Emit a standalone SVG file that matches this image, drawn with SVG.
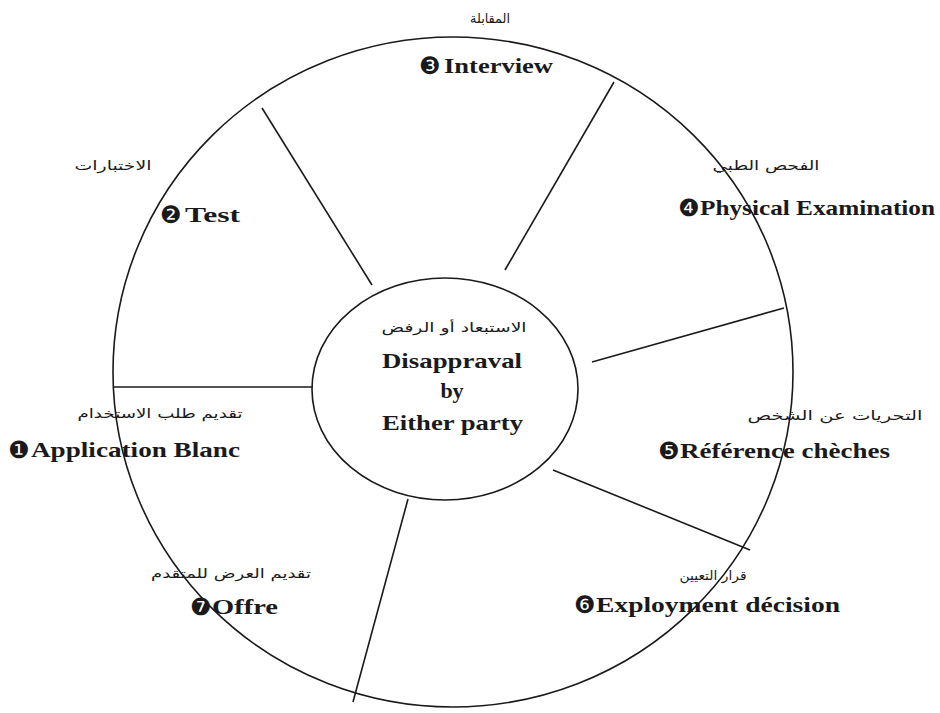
<svg xmlns="http://www.w3.org/2000/svg" width="940" height="713" viewBox="0 0 940 713">
<style>
.ln{fill:none;stroke:#1a1a1a;stroke-width:1.6}
.en{font-family:"Liberation Serif","Times New Roman",serif;font-weight:bold;font-size:22px;fill:#1a1a1a}
.num{font-family:"DejaVu Sans",sans-serif;font-size:24px;fill:#1a1a1a}
.ar{font-family:"DejaVu Sans","Noto Sans",sans-serif;font-size:13px;fill:#1a1a1a;text-anchor:middle}
</style>
<rect width="940" height="713" fill="#ffffff"/>
<g id="connectors">
<line class="ln" x1="113" y1="387" x2="313" y2="387"/>
<line class="ln" x1="262" y1="108" x2="372" y2="285"/>
<line class="ln" x1="614" y1="82" x2="505" y2="270"/>
<line class="ln" x1="784" y1="308" x2="592" y2="362"/>
<line class="ln" x1="553" y1="470" x2="750" y2="550"/>
<line class="ln" x1="408" y1="499" x2="353" y2="702"/>
</g>
<g id="outer"><ellipse class="ln" cx="453" cy="372" rx="340" ry="335"/></g>
<g id="center">
<ellipse class="ln" cx="445" cy="389" rx="133" ry="111"/>
<text class="ar" x="454" y="332" textLength="145" lengthAdjust="spacingAndGlyphs">الاستبعاد أو الرفض</text>
<text class="en" x="382" y="368" textLength="140" lengthAdjust="spacingAndGlyphs">Disappraval</text>
<text class="en" x="452" y="398" text-anchor="middle">by</text>
<text class="en" x="382" y="430" textLength="141" lengthAdjust="spacingAndGlyphs">Either party</text>
</g>
<g id="n3">
<text class="ar" x="490" y="23" textLength="40" lengthAdjust="spacingAndGlyphs">المقابلة</text>
<text class="num" x="419" y="74">❸</text>
<text class="en" x="444" y="73" textLength="109" lengthAdjust="spacingAndGlyphs">Interview</text>
</g>
<g id="n2">
<text class="ar" x="113" y="170" textLength="77" lengthAdjust="spacingAndGlyphs">الاختبارات</text>
<text class="num" x="160" y="223">❷</text>
<text class="en" x="185" y="222" textLength="55" lengthAdjust="spacingAndGlyphs">Test</text>
</g>
<g id="n4">
<text class="ar" x="766" y="170" textLength="107" lengthAdjust="spacingAndGlyphs">الفحص الطبي</text>
<text class="num" x="678" y="216">❹</text>
<text class="en" x="700" y="215" textLength="235" lengthAdjust="spacingAndGlyphs">Physical Examination</text>
</g>
<g id="n1">
<text class="ar" x="160" y="418" textLength="165" lengthAdjust="spacingAndGlyphs">تقديم طلب الاستخدام</text>
<text class="num" x="8" y="458">❶</text>
<text class="en" x="31" y="457" textLength="209" lengthAdjust="spacingAndGlyphs">Application Blanc</text>
</g>
<g id="n5">
<text class="ar" x="835" y="420" textLength="175" lengthAdjust="spacingAndGlyphs">التحريات عن الشخص</text>
<text class="num" x="658" y="459">❺</text>
<text class="en" x="680" y="458" textLength="210" lengthAdjust="spacingAndGlyphs">Référence chèches</text>
</g>
<g id="n6">
<text class="ar" x="713" y="580" textLength="67" lengthAdjust="spacingAndGlyphs">قرار التعيين</text>
<text class="num" x="574" y="613">❻</text>
<text class="en" x="596" y="612" textLength="244" lengthAdjust="spacingAndGlyphs">Exployment décision</text>
</g>
<g id="n7">
<text class="ar" x="231" y="578" textLength="160" lengthAdjust="spacingAndGlyphs">تقديم العرض للمتقدم</text>
<text class="num" x="190" y="615">❼</text>
<text class="en" x="212" y="614" textLength="66" lengthAdjust="spacingAndGlyphs">Offre</text>
</g>
</svg>
